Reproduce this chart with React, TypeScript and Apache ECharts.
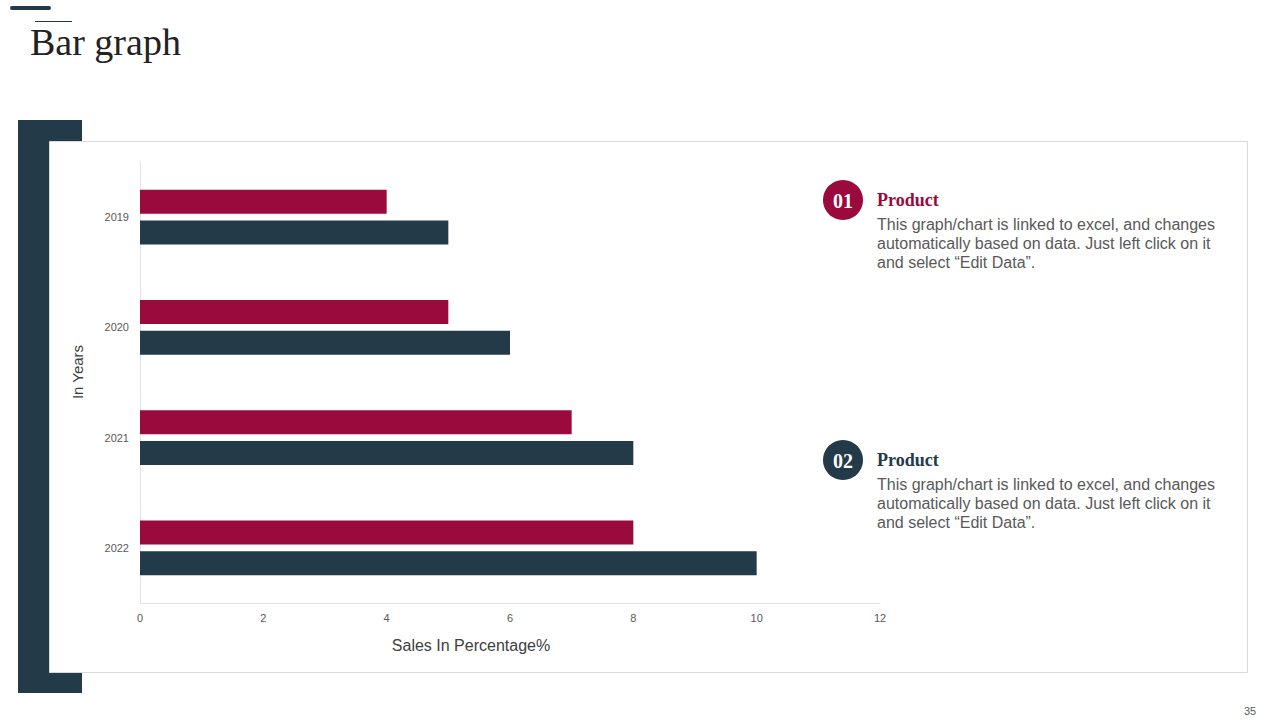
import React, { useEffect, useRef } from "react";
import * as echarts from "echarts";

const years = ["2019", "2020", "2021", "2022"];
const product01 = [4, 5, 7, 8];
const product02 = [5, 6, 8, 10];
const xTicks = [0, 12, 2];
const bodyText = [
  "This graph/chart is linked to excel, and changes",
  "automatically based on data. Just left click on it",
  "and select \u201CEdit Data\u201D.",
];

const RED = "#9A0A3D";
const DARK = "#233A49";
const GRAY = "#595959";

export default function App() {
  const ref = useRef<HTMLDivElement>(null);
  useEffect(() => {
    if (!ref.current) return;
    const chart = echarts.init(ref.current, undefined, { renderer: "svg" });
    const legendBlock = (cy: number, num: string, color: string) => [
      { type: "circle", z: 5, shape: { cx: 843, cy, r: 20 }, style: { fill: color } },
      {
        type: "text", z: 6, x: 843, y: cy + 1,
        style: { text: num, fill: "#fff", font: "bold 20px 'Liberation Serif', serif", align: "center", verticalAlign: "middle" },
      },
      {
        type: "text", z: 6, x: 877, y: cy,
        style: { text: "Product", fill: color, font: "bold 18px 'Liberation Serif', serif", align: "left", verticalAlign: "middle" },
      },
      ...bodyText.map((t, i) => ({
        type: "text", z: 6, x: 877, y: cy + 24 + i * 19,
        style: { text: t, fill: GRAY, font: "16px 'Liberation Sans', Arial, sans-serif", align: "left", verticalAlign: "middle" },
      })),
    ];
    chart.setOption({
      animation: false,
      backgroundColor: "#ffffff",
      grid: { left: 140, right: 400, top: 162, bottom: 117, containLabel: false },
      xAxis: {
        type: "value",
        min: xTicks[0],
        max: xTicks[1],
        interval: xTicks[2],
        splitLine: { show: false },
        axisTick: { show: false },
        axisLine: { show: true, lineStyle: { color: "#e3e3e3", width: 1 } },
        axisLabel: { color: GRAY, fontSize: 11, margin: 9, fontFamily: "'Liberation Sans', Arial, sans-serif" },
      },
      yAxis: {
        type: "category",
        data: years,
        inverse: true,
        axisTick: { show: false },
        axisLine: { show: true, lineStyle: { color: "#e3e3e3", width: 1 } },
        axisLabel: { color: GRAY, fontSize: 11, margin: 11, fontFamily: "'Liberation Sans', Arial, sans-serif" },
      },
      series: [
        { name: "Product 01", type: "bar", data: product01, barWidth: 24, barGap: "28%", itemStyle: { color: RED } },
        { name: "Product 02", type: "bar", data: product02, barWidth: 24, barGap: "28%", itemStyle: { color: DARK } },
      ],
      graphic: [
        { type: "rect", z: -20, shape: { x: 18, y: 120, width: 64, height: 573 }, style: { fill: DARK } },
        { type: "rect", z: -10, shape: { x: 49.5, y: 141.5, width: 1198, height: 531 }, style: { fill: "#fff", stroke: "#d9d9d9", lineWidth: 1 } },
        { type: "line", shape: { x1: 12, y1: 8, x2: 49, y2: 8 }, style: { stroke: DARK, lineWidth: 4, lineCap: "round" } },
        { type: "line", shape: { x1: 35, y1: 21.5, x2: 72, y2: 21.5 }, style: { stroke: DARK, lineWidth: 1 } },
        {
          type: "text", x: 30, y: 23,
          style: { text: "Bar graph", fill: "#222222", font: "38px 'Liberation Serif', serif", align: "left", verticalAlign: "top" },
        },
        {
          type: "text", x: 77, y: 372, rotation: Math.PI / 2,
          style: { text: "In Years", fill: "#404040", font: "15px 'Liberation Sans', Arial, sans-serif", align: "center", verticalAlign: "middle" },
        },
        {
          type: "text", x: 471, y: 645,
          style: { text: "Sales In Percentage%", fill: "#404040", font: "16px 'Liberation Sans', Arial, sans-serif", align: "center", verticalAlign: "middle" },
        },
        ...legendBlock(200, "01", RED),
        ...legendBlock(460, "02", DARK),
        {
          type: "text", x: 1250, y: 711,
          style: { text: "35", fill: GRAY, font: "11px 'Liberation Sans', Arial, sans-serif", align: "center", verticalAlign: "middle" },
        },
      ],
    });
    return () => chart.dispose();
  }, []);
  return <div ref={ref} style={{ position: "fixed", left: 0, top: 0, width: 1280, height: 720 }} />;
}
